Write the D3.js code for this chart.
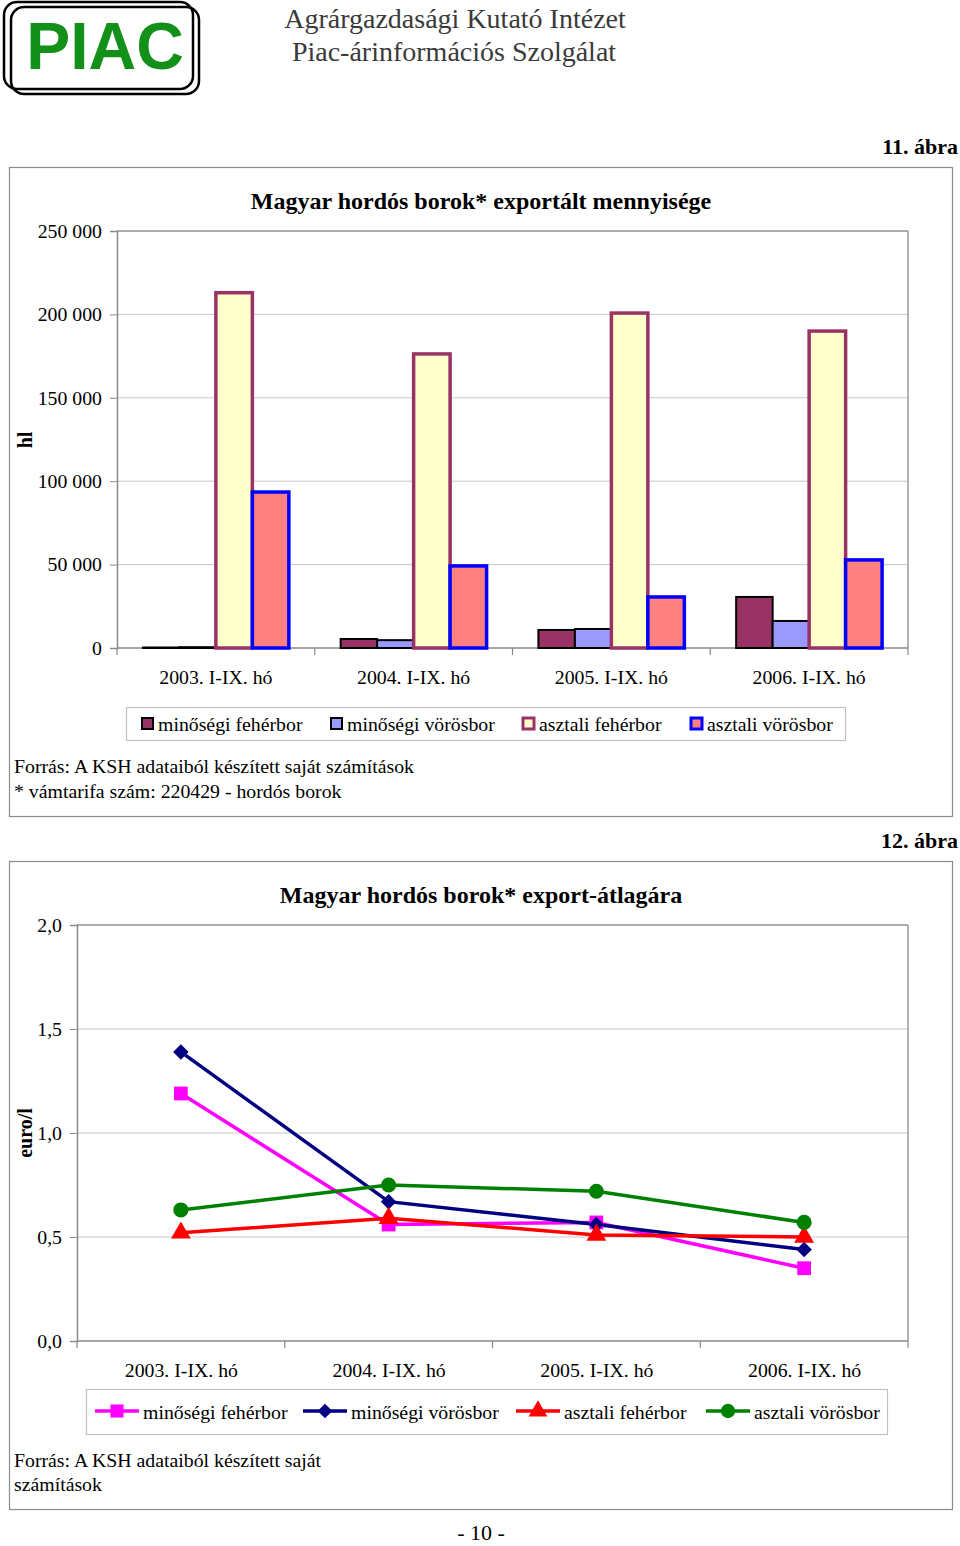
<!DOCTYPE html>
<html><head><meta charset="utf-8">
<script src="https://cdn.jsdelivr.net/npm/d3@7"></script>
<style>body{margin:0;background:#fff}svg{display:block}</style>
</head><body>
<script>
// ---------- DATA ----------
const categories = ["2003. I-IX. hó","2004. I-IX. hó","2005. I-IX. hó","2006. I-IX. hó"];
const seriesNames = ["minőségi fehérbor","minőségi vörösbor","asztali fehérbor","asztali vörösbor"];
// Chart 11: export quantity (hl)
const qtyMinosegiFeher = [300, 5400, 10800, 30600];
const qtyMinosegiVoros = [500, 4700, 11400, 16200];
const qtyAsztaliFeher  = [213000, 176300, 200800, 190000];
const qtyAsztaliVoros  = [93500, 49200, 30600, 52800];
const qtyTicks = [0, 50000, 100000, 150000, 200000, 250000];
// Chart 12: average export price (euro/l)
const priceMinosegiFeher = [1.19, 0.56, 0.57, 0.35];
const priceMinosegiVoros = [1.39, 0.67, 0.56, 0.44];
const priceAsztaliFeher  = [0.52, 0.59, 0.51, 0.50];
const priceAsztaliVoros  = [0.63, 0.75, 0.72, 0.57];
const priceTicks = [0, 0.5, 1.0, 1.5, 2.0];

const W = 960, H = 1546;
const serif = "'Liberation Serif','Times New Roman',serif";
const fs = "19.8px";
const svg = d3.select("body").append("svg").attr("width", W).attr("height", H)
  .style("font-family", serif);

// ---------- HEADER ----------
const logo = svg.append("g");
logo.append("rect").attr("x",4).attr("y",2).attr("width",189).attr("height",87).attr("rx",13)
  .attr("fill","none").attr("stroke","#000").attr("stroke-width",2.5);
logo.append("rect").attr("x",11).attr("y",7).attr("width",188).attr("height",87).attr("rx",13)
  .attr("fill","none").attr("stroke","#000").attr("stroke-width",2.5);
logo.append("text").attr("x",105).attr("y",69).attr("text-anchor","middle")
  .style("font-family","'Liberation Sans',Arial,sans-serif").style("font-weight","bold")
  .style("font-size","66px").attr("fill","#13901a").text("PIAC");
svg.append("text").attr("x",455).attr("y",28).attr("text-anchor","middle")
  .style("font-size","28px").attr("fill","#3a3a3a").text("Agrárgazdasági Kutató Intézet");
svg.append("text").attr("x",454).attr("y",61).attr("text-anchor","middle")
  .style("font-size","28px").attr("fill","#3a3a3a").text("Piac-árinformációs Szolgálat");

// ---------- CHART 11 (bars) ----------
svg.append("text").attr("x",958).attr("y",154).attr("text-anchor","end")
  .style("font-size","22px").style("font-weight","bold").text("11. ábra");
svg.append("rect").attr("x",9.5).attr("y",167.5).attr("width",943).attr("height",649)
  .attr("fill","none").attr("stroke","#8c8c8c").attr("stroke-width",1.2);
svg.append("text").attr("x",481).attr("y",209).attr("text-anchor","middle")
  .style("font-size","24px").style("font-weight","bold").text("Magyar hordós borok* exportált mennyisége");

const b = {l:117, r:908, t:231, btm:648};
const x0 = d3.scaleBand().domain(categories).range([b.l,b.r]).paddingInner(0.262).paddingOuter(0.131);
const x1 = d3.scaleBand().domain(seriesNames).range([0,x0.bandwidth()]);
const yQ = d3.scaleLinear().domain([0,250000]).range([b.btm,b.t]);

const gB = svg.append("g");
gB.selectAll("line.grid").data(qtyTicks.slice(1)).join("line")
  .attr("x1",b.l).attr("x2",b.r).attr("y1",d=>yQ(d)).attr("y2",d=>yQ(d))
  .attr("stroke","#c8c8c8").attr("stroke-width",1);
gB.append("line").attr("x1",b.r).attr("x2",b.r).attr("y1",b.t).attr("y2",b.btm).attr("stroke","#9a9a9a").attr("stroke-width",1.5);
gB.append("line").attr("x1",b.l).attr("x2",b.r).attr("y1",b.t).attr("y2",b.t).attr("stroke","#9a9a9a").attr("stroke-width",1.5);

const fmtQ = d => d3.format(",")(d).replace(/,/g," ");
const yAxB = gB.append("g").attr("transform",`translate(${b.l},0)`)
  .call(d3.axisLeft(yQ).tickValues(qtyTicks).tickFormat(fmtQ).tickSize(7).tickPadding(8));
yAxB.select(".domain").attr("stroke","#8a8a8a").attr("stroke-width",1.5);
yAxB.selectAll(".tick line").attr("stroke","#8a8a8a");
yAxB.selectAll("text").style("font-family",serif).style("font-size",fs).attr("fill","#000");

const xAxB = gB.append("g").attr("transform",`translate(0,${b.btm})`)
  .call(d3.axisBottom(x0).tickSize(0).tickPadding(22));
xAxB.select(".domain").remove();
xAxB.selectAll("text").style("font-family",serif).style("font-size",fs).attr("fill","#000");
gB.append("line").attr("x1",b.l).attr("x2",b.r).attr("y1",b.btm).attr("y2",b.btm).attr("stroke","#8a8a8a").attr("stroke-width",1.5);
const stepB = x0.step();
gB.selectAll("line.ctick").data(d3.range(categories.length+1)).join("line")
  .attr("x1",i=>b.l + i*stepB).attr("x2",i=>b.l + i*stepB).attr("y1",b.btm).attr("y2",b.btm+7)
  .attr("stroke","#8a8a8a").attr("stroke-width",1.2);

const barStyles = [
  {fill:"#993366", stroke:"#000", sw:2},
  {fill:"#9999ff", stroke:"#000", sw:2},
  {fill:"#ffffcc", stroke:"#993366", sw:3.5},
  {fill:"#ff8080", stroke:"#0000ff", sw:3.5}
];
const qtySeries = [qtyMinosegiFeher, qtyMinosegiVoros, qtyAsztaliFeher, qtyAsztaliVoros];
qtySeries.forEach((vals,si)=>{
  const st = barStyles[si];
  gB.selectAll(null).data(vals).join("rect")
    .attr("x",(d,i)=>x0(categories[i]) + x1(seriesNames[si]))
    .attr("y",d=>yQ(d))
    .attr("width",x1.bandwidth())
    .attr("height",d=>b.btm - yQ(d))
    .attr("fill",st.fill).attr("stroke",st.stroke).attr("stroke-width",st.sw);
});

svg.append("text").attr("transform","translate(32,440) rotate(-90)").attr("text-anchor","middle")
  .style("font-size","20px").style("font-weight","bold").text("hl");

// legend 11
svg.append("rect").attr("x",126.5).attr("y",707.5).attr("width",719).attr("height",33)
  .attr("fill","#fff").attr("stroke","#c0c0c0").attr("stroke-width",1.2);
const legXB = [141, 330, 522, 690];
seriesNames.forEach((n,i)=>{
  const st = barStyles[i];
  svg.append("rect").attr("x",legXB[i]+1).attr("y",718).attr("width",11).attr("height",11)
    .attr("fill",st.fill).attr("stroke",st.stroke).attr("stroke-width",i<2?2:3);
  svg.append("text").attr("x",legXB[i]+17).attr("y",731).style("font-size",fs).text(n);
});
svg.append("text").attr("x",14).attr("y",773).style("font-size",fs).text("Forrás: A KSH adataiból készített saját számítások");
svg.append("text").attr("x",14).attr("y",798).style("font-size",fs).text("* vámtarifa szám: 220429 - hordós borok");

// ---------- CHART 12 (lines) ----------
svg.append("text").attr("x",958).attr("y",848).attr("text-anchor","end")
  .style("font-size","22px").style("font-weight","bold").text("12. ábra");
svg.append("rect").attr("x",9.5).attr("y",861.5).attr("width",943).attr("height",648)
  .attr("fill","none").attr("stroke","#8c8c8c").attr("stroke-width",1.2);
svg.append("text").attr("x",481).attr("y",903).attr("text-anchor","middle")
  .style("font-size","24px").style("font-weight","bold").text("Magyar hordós borok* export-átlagára");

const p = {l:77, r:908, t:925, btm:1341};
const xP = d3.scalePoint().domain(categories).range([p.l,p.r]).padding(0.5);
const yP = d3.scaleLinear().domain([0,2]).range([p.btm,p.t]);
const gL = svg.append("g");
gL.selectAll("line.grid").data(priceTicks.slice(1)).join("line")
  .attr("x1",p.l).attr("x2",p.r).attr("y1",d=>yP(d)).attr("y2",d=>yP(d))
  .attr("stroke","#c8c8c8").attr("stroke-width",1);
gL.append("line").attr("x1",p.r).attr("x2",p.r).attr("y1",p.t).attr("y2",p.btm).attr("stroke","#9a9a9a").attr("stroke-width",1.5);
gL.append("line").attr("x1",p.l).attr("x2",p.r).attr("y1",p.t).attr("y2",p.t).attr("stroke","#9a9a9a").attr("stroke-width",1.5);
const yAxL = gL.append("g").attr("transform",`translate(${p.l},0)`)
  .call(d3.axisLeft(yP).tickValues(priceTicks).tickFormat(d=>d3.format(".1f")(d).replace(".",",")).tickSize(7).tickPadding(8));
yAxL.select(".domain").attr("stroke","#8a8a8a").attr("stroke-width",1.5);
yAxL.selectAll(".tick line").attr("stroke","#8a8a8a");
yAxL.selectAll("text").style("font-family",serif).style("font-size",fs).attr("fill","#000");
const xAxL = gL.append("g").attr("transform",`translate(0,${p.btm})`)
  .call(d3.axisBottom(xP).tickSize(0).tickPadding(22));
xAxL.select(".domain").remove();
xAxL.selectAll("text").style("font-family",serif).style("font-size",fs).attr("fill","#000");
gL.append("line").attr("x1",p.l).attr("x2",p.r).attr("y1",p.btm).attr("y2",p.btm).attr("stroke","#8a8a8a").attr("stroke-width",1.5);
const stepL = xP.step();
gL.selectAll("line.ctick").data(d3.range(categories.length+1)).join("line")
  .attr("x1",i=>p.l + i*stepL).attr("x2",i=>p.l + i*stepL).attr("y1",p.btm).attr("y2",p.btm+7)
  .attr("stroke","#8a8a8a").attr("stroke-width",1.2);

const lineColors = ["#ff00ff","#000080","#ff0000","#008000"];
const symbols = [d3.symbolSquare, d3.symbolSquare, d3.symbolTriangle, d3.symbolCircle];
const symRot = [0, 45, 0, 0];
const symSizes = [190, 120, 170, 180];
const priceSeries = [priceMinosegiFeher, priceMinosegiVoros, priceAsztaliFeher, priceAsztaliVoros];
const lineGen = d3.line().x((d,i)=>xP(categories[i])).y(d=>yP(d));
priceSeries.forEach((vals,si)=>{
  gL.append("path").datum(vals).attr("d",lineGen).attr("fill","none")
    .attr("stroke",lineColors[si]).attr("stroke-width",3.5);
});
priceSeries.forEach((vals,si)=>{
  gL.selectAll(null).data(vals).join("path")
    .attr("transform",(d,i)=>`translate(${xP(categories[i])},${yP(d)}) rotate(${symRot[si]})`)
    .attr("d",d3.symbol(symbols[si], symSizes[si])).attr("fill",lineColors[si]);
});
svg.append("text").attr("transform","translate(32,1133) rotate(-90)").attr("text-anchor","middle")
  .style("font-size","20px").style("font-weight","bold").text("euro/l");

// legend 12
svg.append("rect").attr("x",86.5).attr("y",1389.5).attr("width",801).attr("height",45)
  .attr("fill","#fff").attr("stroke","#c0c0c0").attr("stroke-width",1.2);
const legXL = [95, 303, 516, 706];
seriesNames.forEach((n,i)=>{
  svg.append("line").attr("x1",legXL[i]).attr("x2",legXL[i]+44).attr("y1",1411).attr("y2",1411)
    .attr("stroke",lineColors[i]).attr("stroke-width",3.5);
  svg.append("path").attr("transform",`translate(${legXL[i]+22},1411) rotate(${symRot[i]})`)
    .attr("d",d3.symbol(symbols[i], symSizes[i]*0.9)).attr("fill",lineColors[i]);
  svg.append("text").attr("x",legXL[i]+48).attr("y",1419).style("font-size",fs).text(n);
});
svg.append("text").attr("x",14).attr("y",1467).style("font-size",fs).text("Forrás: A KSH adataiból készített saját");
svg.append("text").attr("x",14).attr("y",1491).style("font-size",fs).text("számítások");

svg.append("text").attr("x",481).attr("y",1540).attr("text-anchor","middle")
  .style("font-size","22px").text("- 10 -");
</script>
</body></html>
